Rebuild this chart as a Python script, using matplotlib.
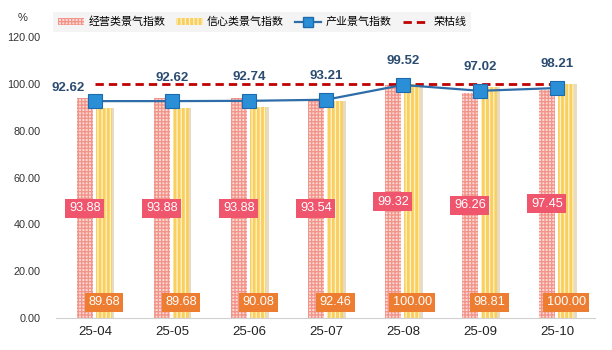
import matplotlib.pyplot as plt
import numpy as np
from matplotlib.patches import Patch
from matplotlib.lines import Line2D

# 数据
months = ['25-04', '25-05', '25-06', '25-07', '25-08', '25-09', '25-10']
jingying = [93.88, 93.88, 93.88, 93.54, 99.32, 96.26, 97.45]
xinxin = [89.68, 89.68, 90.08, 92.46, 100.00, 98.81, 100.00]
chanye = [92.62, 92.62, 92.74, 93.21, 99.52, 97.02, 98.21]
rongku = [100.0] * len(months)

plt.rcParams['font.family'] = ['Liberation Sans', 'Noto Sans CJK SC', 'DejaVu Sans']
plt.rcParams['hatch.linewidth'] = 0.95

PINK_FACE, PINK_HATCH = '#FCDAD4', '#F2948A'
YEL_FACE, YEL_HATCH = '#F9CF60', '#FFF2C8'


def main():
    fig = plt.figure(figsize=(6.12, 3.5), dpi=100)
    ax = fig.add_axes([0.092, 0.0914, 0.881, 0.8029])

    x = np.arange(len(months))
    w = 0.21

    # 柱子
    ax.bar(x - 0.13, jingying, w, facecolor=PINK_FACE, edgecolor=PINK_HATCH,
           hatch='+++++', linewidth=0, zorder=2)
    ax.bar(x + 0.15, xinxin, w, facecolor='#E6DCC6', linewidth=0, zorder=1)  # 阴影
    ax.bar(x + 0.12, xinxin, w, facecolor=YEL_FACE, edgecolor=YEL_HATCH,
           hatch='||||', linewidth=0, zorder=2)

    # 折线
    ax.plot(x, rongku, color='#C00000', linestyle=(0, (3, 1.8)), linewidth=2, zorder=3)
    ax.plot(x, chanye, color='#2E6DA8', linewidth=1.6, marker='s', markersize=10,
            markerfacecolor='#2A8FD6', markeredgecolor='#1D6BAE', markeredgewidth=0.8,
            zorder=4)

    # 数据标签
    for i in x:
        ax.text(i - 0.13, jingying[i] / 2, f'{jingying[i]:.2f}', ha='center', va='center',
                fontsize=9.2, color='white', zorder=5,
                bbox=dict(boxstyle='square,pad=0.28', facecolor='#EF566E', edgecolor='none'))
        ax.text(i + 0.12, 6.8, f'{xinxin[i]:.2f}', ha='center', va='center',
                fontsize=9.2, color='white', zorder=5,
                bbox=dict(boxstyle='square,pad=0.28', facecolor='#ED7D31', edgecolor='none'))
        off = (-19, 9.5) if i == 0 else (0, 17)
        ax.annotate(f'{chanye[i]:.2f}', (i, chanye[i]), xytext=off, textcoords='offset points',
                    ha='center', va='center', fontsize=9.5, fontweight='bold',
                    color='#2B4C70', zorder=6)

    ax.set_xlim(-0.5, len(months) - 0.5)
    ax.set_ylim(0, 120)
    ax.set_yticks(np.arange(0, 121, 20))
    ax.set_yticklabels([f'{v:.2f}' for v in np.arange(0, 121, 20)], fontsize=7.8, color='#333333')
    ax.set_xticks(x)
    ax.set_xticklabels(months, fontsize=9.5, color='#222222')
    ax.tick_params(axis='both', length=0)
    ax.tick_params(axis='y', pad=11.5)
    ax.tick_params(axis='x', pad=6)
    for s in ['left', 'right', 'top']:
        ax.spines[s].set_visible(False)
    ax.spines['bottom'].set_color('#D0D0D0')

    fig.text(0.037, 0.948, '%', fontsize=8, ha='center', va='center', color='#333333')

    # 图例
    handles = [
        Patch(facecolor=PINK_FACE, edgecolor=PINK_HATCH, hatch='+++++', linewidth=0),
        Patch(facecolor=YEL_FACE, edgecolor=YEL_HATCH, hatch='||||', linewidth=0),
        Line2D([], [], color='#2E6DA8', linewidth=1.6, marker='s', markersize=7,
               markerfacecolor='#2A8FD6', markeredgecolor='#1D6BAE'),
        Line2D([], [], color='#C00000', linestyle=(0, (3, 1.8)), linewidth=2),
    ]
    labels = ['经营类景气指数', '信心类景气指数', '产业景气指数', '荣枯线']
    leg = fig.legend(handles, labels, loc='center', bbox_to_anchor=(0.428, 0.937), ncol=4,
                     fontsize=7.9, frameon=True, facecolor='#F2F2F2', edgecolor='none',
                     fancybox=False, handlelength=2.4, handleheight=0.6, handletextpad=0.4,
                     columnspacing=1.0, borderpad=0.4)
    leg.get_frame().set_linewidth(0)

    fig.savefig('out.png', dpi=100)


if __name__ == "__main__":
    main()
